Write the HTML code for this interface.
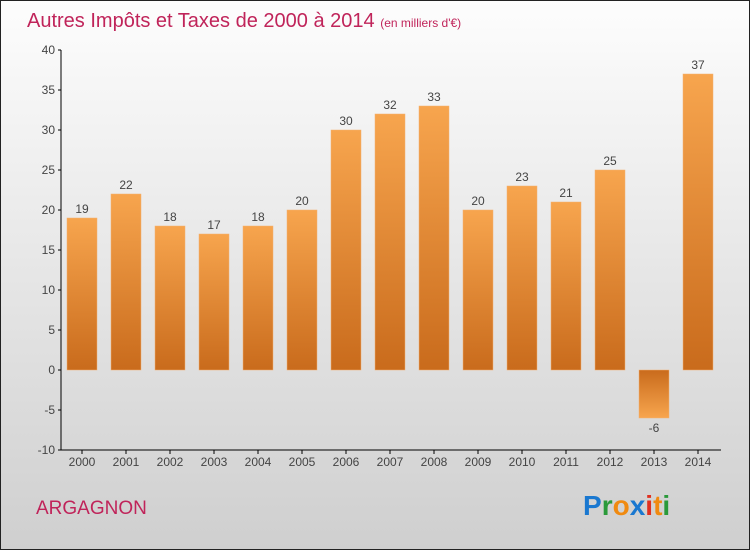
<!DOCTYPE html>
<html><head><meta charset="utf-8"><style>
html,body{margin:0;padding:0}
body{width:750px;height:550px;overflow:hidden;font-family:"Liberation Sans",sans-serif}
</style></head><body>
<svg id="chart" width="750" height="550" xmlns="http://www.w3.org/2000/svg">
<defs>
<linearGradient id="bg" x1="0" y1="0" x2="0" y2="1"><stop offset="0" stop-color="#fdfdfd"/><stop offset="1" stop-color="#cfcfcf"/></linearGradient>
<linearGradient id="barg" x1="0" y1="0" x2="0" y2="1"><stop offset="0" stop-color="#f7a54e"/><stop offset="1" stop-color="#c96b1c"/></linearGradient>
<linearGradient id="bargn" x1="0" y1="0" x2="0" y2="1"><stop offset="0" stop-color="#c96b1c"/><stop offset="1" stop-color="#f7a54e"/></linearGradient>
</defs>
<rect x="0.5" y="0.5" width="749" height="549" fill="url(#bg)" stroke="#222"/>
<text x="27" y="27" font-size="20" fill="#c0245a">Autres Impôts et Taxes de 2000 à 2014 <tspan font-size="12" fill="#c0245a">(en milliers d'€)</tspan></text>
<g id="axes"></g>
<g id="bars"></g>
<text x="36" y="514" font-size="19" fill="#c0245a">ARGAGNON</text>
<g font-size="28" font-weight="bold">
<text x="583" y="515"><tspan fill="#1a78d0">P</tspan><tspan fill="#2a9a3a">r</tspan><tspan fill="#f08a10">o</tspan><tspan fill="#1a78d0">x</tspan><tspan fill="#e03020">i</tspan><tspan fill="#f08a10">t</tspan><tspan fill="#2a9a3a">i</tspan></text>
</g>
</svg>
<script>
const years=["2000","2001","2002","2003","2004","2005","2006","2007","2008","2009","2010","2011","2012","2013","2014"];
const values=[19,22,18,17,18,20,30,32,33,20,23,21,25,-6,37];
const yTicks=[-10,-5,0,5,10,15,20,25,30,35,40];
const NS="http://www.w3.org/2000/svg";
const y=v=>370-v*8;
const x=i=>82+i*44;
function mk(t,a,p){const e=document.createElementNS(NS,t);for(const k in a)e.setAttribute(k,a[k]);p.appendChild(e);return e;}
const axes=document.getElementById('axes'),bars=document.getElementById('bars');
const ya=mk('line',{x1:61,y1:y(40),x2:61,y2:y(-10),stroke:'#000'},axes);


const xa=mk('line',{x1:61,y1:y(-10),x2:721,y2:y(-10),stroke:'#000'},axes);


yTicks.forEach(v=>{
 mk('line',{x1:58,y1:y(v),x2:61,y2:y(v),stroke:'#000'},axes);
 const t=mk('text',{x:55,y:y(v)+4,'text-anchor':'end','font-size':12,fill:'#444'},axes);
 t.textContent=v;
 
 
});
years.forEach((yr,i)=>{
 mk('line',{x1:x(i),y1:y(-10),x2:x(i),y2:y(-10)+4,stroke:'#000'},axes);
 const t=mk('text',{x:x(i),y:466,'text-anchor':'middle','font-size':12,fill:'#444'},axes);
 t.textContent=yr;
 
 
 const v=values[i];
 const top=v>=0?y(v):y(0),h=Math.abs(v)*8;
 const r=mk('rect',{x:x(i)-15,y:top,width:30,height:h,fill:v>=0?'url(#barg)':'url(#bargn)',stroke:'#f3b070','stroke-width':0.5},bars);
 
 
 const l=mk('text',{x:x(i),y:v>=0?y(v)-5:y(v)+14,'text-anchor':'middle','font-size':12,fill:'#444'},bars);
 l.textContent=v;
 
 
});
</script>
</body></html>
